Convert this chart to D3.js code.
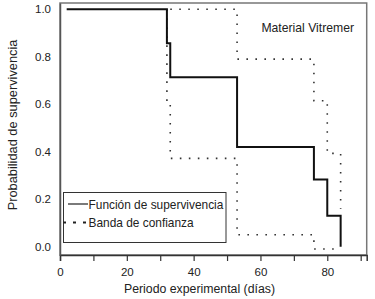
<!DOCTYPE html>
<html><head><meta charset="utf-8">
<script src="https://cdn.jsdelivr.net/npm/d3@7"></script>
<style>body{margin:0;background:#fff}text{font-family:"Liberation Sans",Arial,sans-serif;fill:#222}</style>
</head><body><svg id="c" width="375" height="299"></svg>
<script>
// Survival function (Kaplan-Meier) steps: [day, probability]
const survDays = [2, 32, 32, 33, 33, 53, 53, 76, 76, 80, 80, 84, 84];
const survProb = [1.0, 1.0, 0.857, 0.857, 0.714, 0.714, 0.42, 0.42, 0.283, 0.283, 0.13, 0.13, 0.0];
// Upper confidence band
const upperDays = [33, 53, 53, 76, 76, 80, 80, 84, 84];
const upperProb = [1.0, 1.0, 0.79, 0.79, 0.615, 0.615, 0.393, 0.393, 0.16];
// Lower confidence band
const lowerDays = [32, 32, 33, 33, 53, 53, 76, 76, 83];
const lowerProb = [1.0, 0.6, 0.6, 0.372, 0.372, 0.05, 0.05, -0.01, -0.01];
const xTicks = [0,10,20,30,40,50,60,70,80,90];
const xTickLabels = ["0","","20","","40","","60","","80",""];
const yTicks = [0,0.2,0.4,0.6,0.8,1.0];
const yTickLabels = ["0.0","0.2","0.4","0.6","0.8","1.0"];
const legendLabels = ["Función de supervivencia","Banda de confianza"];

const svg = d3.select("#c");
const L=60,R=366.7,T=3,B=255;
const x = d3.scaleLinear().domain([0,91.8]).range([L,R]);
const y = d3.scaleLinear().domain([-0.035,1.0265]).range([B,T]);

// frame
svg.append("rect").attr("x",L).attr("y",T).attr("width",R-L).attr("height",B-T)
  .attr("fill","none").attr("stroke","#777").attr("stroke-width",1.5);

// x axis
const xa = svg.append("g").attr("transform",`translate(0,${B})`)
  .call(d3.axisBottom(x).tickValues(xTicks).tickSize(6).tickFormat((d,i)=>xTickLabels[i]));
xa.select(".domain").attr("stroke","#333").attr("stroke-width",1.5);
xa.selectAll(".tick line").attr("stroke","#333").attr("stroke-width",1.2);
xa.selectAll("text").attr("font-size",11.5).attr("dy","1.05em").attr("fill","#222")
  .style("font-family","'Liberation Sans',Arial,sans-serif");

// y labels (no tick marks)
const ya = svg.append("g").attr("transform",`translate(${L},0)`)
  .call(d3.axisLeft(y).tickValues(yTicks).tickSize(0).tickPadding(9).tickFormat((d,i)=>yTickLabels[i]));
ya.select(".domain").attr("stroke","#555").attr("stroke-width",1.5);
ya.selectAll("text").attr("font-size",11.5).attr("fill","#222")
  .style("font-family","'Liberation Sans',Arial,sans-serif");

const line = d3.line().x(d=>x(d[0])).y(d=>y(d[1]));
const dotStyle = s=>s.attr("fill","none").attr("stroke","#333").attr("stroke-width",1.6)
  .attr("stroke-dasharray","1.6,7.4");
svg.append("path").datum(upperDays.map((d,i)=>[d,upperProb[i]])).attr("d",line).call(dotStyle);
svg.append("path").datum(lowerDays.map((d,i)=>[d,lowerProb[i]])).attr("d",line).call(dotStyle);
svg.append("path").datum(survDays.map((d,i)=>[d,survProb[i]])).attr("d",line)
  .attr("fill","none").attr("stroke","#111").attr("stroke-width",2);

// annotation
svg.append("text").attr("x",354).attr("y",32).attr("text-anchor","end").attr("font-size",12.2).text("Material Vitremer");

// legend
const lg = svg.append("g");
lg.append("rect").attr("x",63.5).attr("y",192.5).attr("width",162.5).attr("height",50)
  .attr("fill","#fff").attr("stroke","#333").attr("stroke-width",1);
lg.append("line").attr("x1",68).attr("x2",88).attr("y1",204).attr("y2",204).attr("stroke","#222").attr("stroke-width",1.2);
lg.append("line").attr("x1",63).attr("x2",88).attr("y1",222.5).attr("y2",222.5).attr("stroke","#222").attr("stroke-width",2)
  .attr("stroke-dasharray","3,7");
lg.selectAll("text.lt").data(legendLabels).join("text").attr("class","lt")
  .attr("x",88.5).attr("y",(d,i)=>208.5+i*18.5).attr("font-size",11.9).text(d=>d);

// axis titles
svg.append("text").attr("x",199.5).attr("y",292.5).attr("text-anchor","middle").attr("font-size",12.3).text("Periodo experimental (días)");
svg.append("text").attr("transform","translate(17,125) rotate(-90)").attr("text-anchor","middle").attr("font-size",12.8).text("Probabilidad de supervivencia");
</script></body></html>
